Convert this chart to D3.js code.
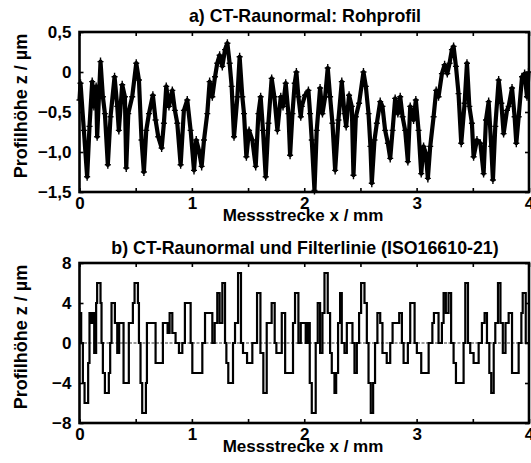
<!DOCTYPE html>
<html>
<head>
<meta charset="utf-8">
<script src="https://cdn.jsdelivr.net/npm/d3@7/dist/d3.min.js"></script>
<style>
  html, body { margin: 0; padding: 0; background: #fff; }
  svg text { font-family: "Liberation Sans", Arial, Helvetica, sans-serif; font-weight: bold; fill: #000; }
</style>
</head>
<body>
<svg id="chart" width="531" height="463"></svg>
<script>
// a) raw profile of the roughness standard: position (mm) and height (µm)
const rawX = [0.000,0.009,0.039,0.068,0.089,0.113,0.128,0.148,0.157,0.187,0.208,0.226,0.252,0.276,0.312,0.336,0.350,0.380,0.404,0.416,0.434,0.469,0.505,0.529,0.552,0.573,0.594,0.618,0.653,0.677,0.701,0.731,0.751,0.772,0.796,0.826,0.849,0.870,0.900,0.929,0.959,0.989,1.019,1.039,1.063,1.087,1.108,1.137,1.158,1.182,1.206,1.226,1.247,1.271,1.295,1.316,1.336,1.354,1.375,1.405,1.425,1.449,1.464,1.485,1.509,1.538,1.568,1.592,1.612,1.633,1.657,1.681,1.710,1.734,1.761,1.791,1.811,1.835,1.859,1.874,1.895,1.915,1.930,1.948,1.969,1.978,
  2.007,2.037,2.052,2.067,2.091,2.111,2.141,2.162,2.186,2.209,2.230,2.251,2.275,2.304,2.334,2.358,2.373,2.399,2.423,2.438,2.459,2.488,2.527,2.548,2.572,2.589,2.601,2.625,2.646,2.676,2.696,2.720,2.744,2.765,2.786,2.809,2.833,2.854,2.875,2.898,2.922,2.943,2.973,2.993,3.017,3.041,3.062,3.082,3.100,3.121,3.151,3.174,3.195,3.225,3.249,3.273,3.293,3.314,3.329,3.350,3.373,3.397,3.427,3.448,3.469,3.492,3.507,3.537,3.567,3.596,3.617,3.641,3.664,3.679,3.700,3.730,3.754,3.774,3.804,3.819,3.849,3.872,3.887,3.908,3.938,3.961,3.982,3.996];
const rawZ = [-0.35,-0.14,-0.73,-1.31,-0.68,-0.12,-0.43,-0.18,-0.81,0.13,-0.31,-0.52,-1.16,-0.56,-0.06,-0.43,-0.73,-0.16,-0.31,-1.20,-0.52,-0.31,0.11,-0.10,-0.85,-1.25,-0.73,-0.52,-0.29,-0.60,-0.81,-0.95,-0.64,-0.18,-0.43,-0.23,-0.48,-0.64,-1.16,-0.48,-0.35,-0.73,-1.23,-0.85,-0.98,-1.18,-0.85,-0.52,-0.12,-0.31,-0.06,0.11,0.21,0.07,0.28,0.36,0.11,-0.18,-0.81,-0.31,0.19,-0.31,-0.52,-1.06,-0.73,-0.85,-1.18,-0.52,-0.31,-0.73,-1.31,-0.64,-0.08,-0.31,-0.73,-0.31,-0.43,-0.14,-0.52,-1.04,-0.52,-0.14,0.00,-0.31,-0.56,-0.43,
  -0.29,-0.23,-0.52,-0.85,-1.48,-0.73,-0.20,-0.52,-0.31,0.05,-0.31,-0.64,-1.23,-0.60,-0.12,-0.52,-0.68,-0.29,-0.43,-1.29,-0.56,-0.39,0.00,-0.18,-0.52,-0.93,-1.39,-0.85,-0.64,-0.37,-0.43,-0.73,-0.89,-1.08,-0.73,-0.33,-0.52,-0.31,-0.56,-0.73,-1.12,-0.43,-0.60,-0.35,-0.73,-1.27,-0.93,-1.02,-1.33,-0.93,-0.56,-0.23,-0.31,-0.02,0.09,-0.02,0.11,0.28,0.32,0.07,-0.27,-0.89,-0.39,0.11,-0.43,-0.64,-1.06,-0.85,-0.89,-1.27,-0.60,-0.37,-0.93,-1.35,-0.68,-0.10,-0.39,-0.77,-0.48,-0.43,-0.20,-0.56,-0.89,-0.56,-0.06,-0.02,-0.31,0.00];

// b) stepped profile: start of each level (mm) and the level (µm)
const stepX = [0.000,0.015,0.030,0.045,0.077,0.089,0.107,0.119,0.131,0.148,0.157,0.187,0.196,0.208,0.226,0.261,0.273,0.285,0.315,0.336,0.353,0.392,0.439,0.475,0.490,0.520,0.529,0.543,0.558,0.591,0.600,0.677,0.742,0.784,0.802,0.826,0.855,0.885,0.915,0.938,0.989,1.004,1.093,1.117,1.182,1.203,1.226,1.247,1.271,1.295,1.307,1.324,1.366,1.384,1.411,1.437,1.455,1.491,1.538,1.580,1.610,1.636,1.666,1.710,1.737,1.752,1.800,1.830,1.900,1.918,1.948,1.969,
  2.013,2.031,2.049,2.067,2.102,2.120,2.141,2.162,2.180,2.209,2.230,2.245,2.269,2.284,2.301,2.319,2.334,2.358,2.379,2.429,2.447,2.468,2.488,2.506,2.536,2.557,2.572,2.592,2.613,2.630,2.651,2.676,2.696,2.734,2.765,2.786,2.845,2.869,2.884,2.922,2.943,2.982,3.002,3.041,3.107,3.140,3.154,3.195,3.225,3.240,3.260,3.284,3.307,3.329,3.350,3.418,3.433,3.457,3.477,3.507,3.552,3.581,3.605,3.626,3.647,3.664,3.686,3.700,3.724,3.746,3.767,3.791,3.819,3.849,3.908,3.932,3.944,3.971,4.000];
const stepZ = [3,0,-4,-6,-2,3,2,3,-1,4,6,4,0,-3,-5,-3,0,4,2,-1,2,-4,2,4,6,4,0,-4,-7,-4,2,-2,2,1,3,1,0,-1,0,4,0,-3,0,3,0,2,5,2,6,0,-2,-4,0,2,7,0,-1,-2,0,5,-1,-5,2,4,0,-1,3,-3,2,5,0,2,
  0,2,-4,-7,0,4,-1,3,7,3,-1,-3,-5,-3,2,5,0,-1,2,0,-3,0,3,6,4,0,-4,-7,-4,0,3,2,-1,-2,0,2,3,0,-2,0,4,0,-1,-3,0,2,3,0,2,5,3,5,0,-2,-4,0,6,0,-1,-2,0,2,3,0,-3,-5,0,2,6,2,-1,2,3,-3,0,3,5,0,0];

// filter line (mean line) of panel b
const filterX = [0, 4];
const filterZ = [0, 0];

const xTicks = [0, 0.5, 1, 1.5, 2, 2.5, 3, 3.5, 4];
const yTicksA = [0.5, 0, -0.5, -1.0, -1.5];
const yTicksB = [8, 4, 0, -4, -8];

const titleA = "a) CT-Raunormal: Rohprofil";
const titleB = "b) CT-Raunormal und Filterlinie (ISO16610-21)";
const xLabel = "Messstrecke x / mm";
const yLabel = "Profilhöhe z / µm";

const svg = d3.select("#chart");
const loc = d3.formatLocale({decimal: ",", thousands: ".", grouping: [3], currency: ["", "€"], minus: "\u2212"});
const fmt1 = loc.format(".1f");
const fmt0 = loc.format("d");

const left = 79.5, right = 529;

function panel(cfg) {
  const x = d3.scaleLinear().domain([0, 4]).range([left, right]);
  const y = d3.scaleLinear().domain(cfg.yDomain).range([cfg.bottom, cfg.top]);
  const g = svg.append("g");

  // data first, frame on top
  cfg.draw(g, x, y);

  const xAxis = d3.axisBottom(x).tickValues(xTicks).tickSize(-4).tickPadding(5)
    .tickFormat(d => Number.isInteger(d) ? fmt0(d) : "");
  const xTop = d3.axisTop(x).tickValues(xTicks).tickSize(-4).tickFormat("");
  const yAxis = d3.axisLeft(y).tickValues(cfg.yTicks).tickSize(-4).tickPadding(8)
    .tickFormat(cfg.yFormat);
  const yRight = d3.axisRight(y).tickValues(cfg.yTicks).tickSize(-4).tickFormat("");

  const styleAxis = a => {
    a.select(".domain").remove();
    a.selectAll(".tick line").attr("stroke", "#000").attr("stroke-width", 1.6);
    a.selectAll(".tick text").attr("font-size", 17).attr("fill", "#000");
  };
  g.append("g").attr("transform", `translate(0,${cfg.bottom})`).call(xAxis).call(styleAxis);
  g.append("g").attr("transform", `translate(0,${cfg.top})`).call(xTop).call(styleAxis);
  g.append("g").attr("transform", `translate(${left},0)`).call(yAxis).call(styleAxis);
  g.append("g").attr("transform", `translate(${right},0)`).call(yRight).call(styleAxis);

  g.append("rect")
    .attr("x", left).attr("y", cfg.top)
    .attr("width", right - left).attr("height", cfg.bottom - cfg.top)
    .attr("fill", "none").attr("stroke", "#000").attr("stroke-width", 2.6);

  g.append("text").attr("x", 305).attr("y", cfg.titleY)
    .attr("text-anchor", "middle").attr("font-size", 17.8).text(cfg.title);
  g.append("text").attr("x", 303).attr("y", cfg.bottom + 29)
    .attr("text-anchor", "middle").attr("font-size", 17).text(xLabel);
  g.append("text")
    .attr("transform", `translate(27,${(cfg.top + cfg.bottom) / 2 - 6}) rotate(-90)`)
    .attr("text-anchor", "middle").attr("font-size", 18).text(yLabel);
}

panel({
  top: 32, bottom: 192, yDomain: [-1.5, 0.5], yTicks: yTicksA, titleY: 22, title: titleA,
  yFormat: d => d === 0 ? "0" : fmt1(d),
  draw: (g, x, y) => {
    const pts = rawX.map((v, i) => [x(v), y(rawZ[i])]);
    g.append("path").attr("d", d3.line()(pts))
      .attr("fill", "none").attr("stroke", "#000").attr("stroke-width", 4.2)
      .attr("stroke-linejoin", "round");
    // measurement point markers
    g.append("g").selectAll("path").data(pts).join("path")
      .attr("d", p => `M${p[0] - 3},${p[1]}h6M${p[0]},${p[1] - 4}v8`)
      .attr("stroke", "#000").attr("stroke-width", 1.4);
  }
});

panel({
  top: 263, bottom: 423, yDomain: [-8, 8], yTicks: yTicksB, titleY: 254, title: titleB,
  yFormat: d => fmt0(d),
  draw: (g, x, y) => {
    g.append("path")
      .attr("d", d3.line().x((d, i) => x(filterX[i])).y((d, i) => y(filterZ[i]))(filterX))
      .attr("stroke", "#999").attr("stroke-width", 2).attr("stroke-dasharray", "3,1.5");
    g.append("path")
      .attr("d", d3.line().curve(d3.curveStepAfter)
        .x((d, i) => x(stepX[i])).y((d, i) => y(stepZ[i]))(stepX))
      .attr("fill", "none").attr("stroke", "#000").attr("stroke-width", 2.2);
  }
});
</script>
</body>
</html>
